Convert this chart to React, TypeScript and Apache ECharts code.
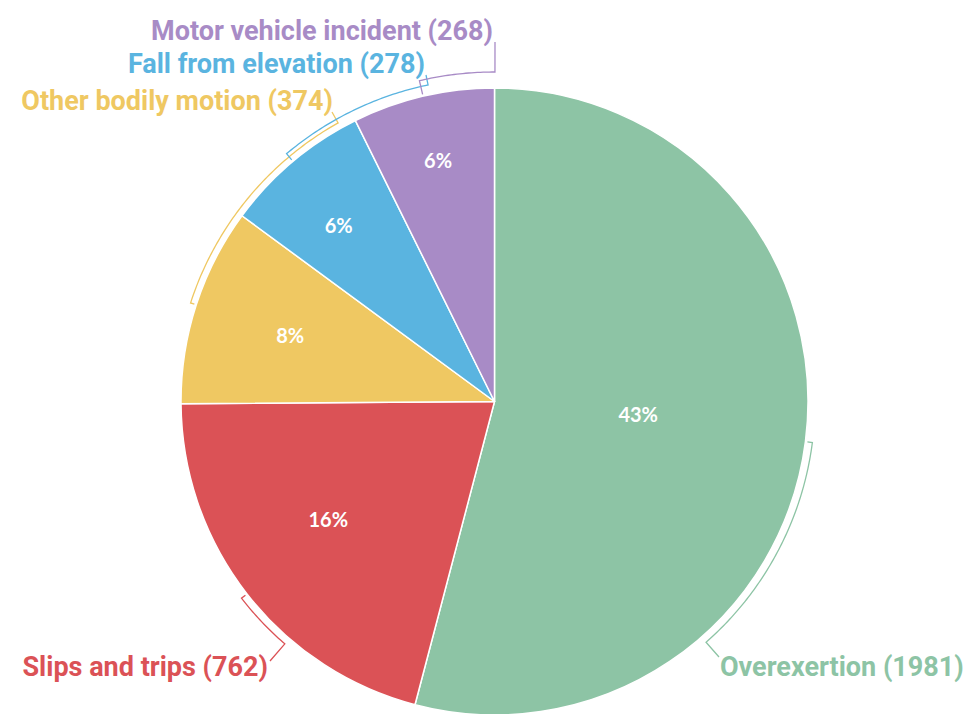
import React, { useEffect, useRef } from "react";
import * as echarts from "echarts";

// ---- data ----
const categories = [
  "Overexertion",
  "Slips and trips",
  "Other bodily motion",
  "Fall from elevation",
  "Motor vehicle incident",
];
const counts = [1981, 762, 374, 278, 268];
const shareLabels = ["43%", "16%", "8%", "6%", "6%"];
const colors = ["#8DC4A5", "#DB5256", "#EFC862", "#5AB4E0", "#A88BC6"];

// ---- layout (pixels) ----
const CX = 494.5;
const CY = 401.5;
const R = 313.5;
const innerLabelRadius = [0.46, 0.65, 0.685, 0.75, 0.79];
const innerLabelShift = [-2.5, 2.5, 0, -1.5, 0];
const outerLabels = [
  { x: 720, y: 667, align: "left", ax: 719, ay: 657, off: 7 },
  { x: 268, y: 667, align: "right", ax: 270, ay: 661, off: 7 },
  { x: 333, y: 101, align: "right", ax: 332, ay: 112, off: 6 },
  { x: 425, y: 64, align: "right", ax: 426, ay: 75, off: 10 },
  { x: 493, y: 31, align: "right", ax: 495, ay: 42, off: 16 },
];

export default function App() {
  const ref = useRef<HTMLDivElement>(null);

  useEffect(() => {
    if (!ref.current) return;
    const chart = echarts.init(ref.current, undefined, { renderer: "svg" });
    const total = counts.reduce((a, b) => a + b, 0);
    const cumStart: number[] = [];
    let acc = 0;
    counts.forEach((v) => {
      cumStart.push(acc);
      acc += v;
    });
    const midValues = counts.map((v, i) => cumStart[i] + v / 2);

    chart.setOption({
      animation: false,
      polar: { center: [CX, CY], radius: R },
      angleAxis: {
        type: "value",
        min: 0,
        max: total,
        startAngle: 90,
        clockwise: true,
        show: false,
        splitLine: { show: false },
      },
      radiusAxis: { type: "value", min: 0, max: 1, show: false, splitLine: { show: false } },
      series: [
        {
          type: "pie",
          center: [CX, CY],
          radius: R,
          startAngle: 90,
          clockwise: true,
          silent: true,
          emphasis: { disabled: true },
          data: categories.map((c, i) => ({
            name: c,
            value: counts[i],
            itemStyle: { color: colors[i] },
          })),
          itemStyle: { borderColor: "#ffffff", borderWidth: 1.5 },
          label: {
            show: true,
            position: "inside",
            formatter: (p: any) => shareLabels[p.dataIndex],
            color: "#ffffff",
            fontFamily: "Lato",
            fontWeight: "bold",
            fontSize: 20,
          },
          labelLine: { show: false },
          labelLayout: (p: any) => {
            const i = p.dataIndex;
            const theta = (2 * Math.PI * midValues[i]) / total + (innerLabelShift[i] * Math.PI) / 180;
            const f = innerLabelRadius[i] * R;
            return {
              x: CX + f * Math.sin(theta),
              y: CY - f * Math.cos(theta),
              align: "center",
              verticalAlign: "middle",
            };
          },
        },
        {
          type: "custom",
          coordinateSystem: "polar",
          silent: true,
          clip: false,
          data: midValues.map((m) => [1, m]),
          renderItem: (params: any, api: any) => {
            const i = params.dataIndex;
            const c = api.coord([0, 0]);
            const p = api.coord([api.value(0), api.value(1)]);
            const rr = Math.hypot(p[0] - c[0], p[1] - c[1]);
            const a0 = Math.atan2(p[1] - c[1], p[0] - c[0]);
            const L = outerLabels[i];
            const a1 = Math.atan2(L.ay - c[1], L.ax - c[0]);
            let d = a1 - a0;
            while (d > Math.PI) d -= 2 * Math.PI;
            while (d < -Math.PI) d += 2 * Math.PI;
            const ra = rr + L.off;
            const pts: number[][] = [];
            pts.push([c[0] + (rr + 2) * Math.cos(a0), c[1] + (rr + 2) * Math.sin(a0)]);
            const n = Math.max(2, Math.ceil((Math.abs(d) * ra) / 3));
            for (let k = 0; k <= n; k++) {
              const a = a0 + (d * k) / n;
              pts.push([c[0] + ra * Math.cos(a), c[1] + ra * Math.sin(a)]);
            }
            pts.push([L.ax, L.ay]);
            return {
              type: "group",
              children: [
                {
                  type: "polyline",
                  shape: { points: pts },
                  style: { stroke: colors[i], fill: null, lineWidth: 1.3 },
                },
                {
                  type: "text",
                  style: {
                    text: `${categories[i]} (${counts[i]})`,
                    x: L.x,
                    y: L.y,
                    fill: colors[i],
                    fontFamily: "Roboto",
                    fontWeight: "bold",
                    fontSize: 27,
                    align: L.align,
                    verticalAlign: "middle",
                  },
                },
              ],
            };
          },
        },
      ],
    });
    return () => chart.dispose();
  }, []);

  return (
    <div
      ref={ref}
      style={{ position: "absolute", left: 0, top: 0, width: 973, height: 714, background: "#fff" }}
    />
  );
}
